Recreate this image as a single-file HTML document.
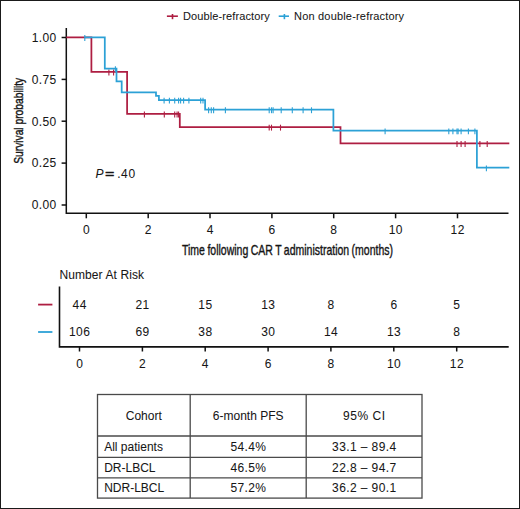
<!DOCTYPE html>
<html><head><meta charset="utf-8"><style>
html,body{margin:0;padding:0;background:#fff;}
svg{display:block;}
text{font-family:"Liberation Sans",sans-serif;fill:#161616;stroke:#161616;stroke-width:0.05px;}
</style></head><body>
<svg width="520" height="509" viewBox="0 0 520 509">
<rect x="0" y="0" width="520" height="509" fill="#fff"/>

<g stroke="#ae1e42" stroke-width="1.6"><line x1="166.9" y1="16.2" x2="177.9" y2="16.2"/><line x1="172.5" y1="14" x2="172.5" y2="19.2"/></g>
<g stroke="#2ca1d6" stroke-width="1.6"><line x1="278.7" y1="16.2" x2="289" y2="16.2"/><line x1="284.4" y1="14" x2="284.4" y2="19.2"/></g>
<text x="182.9" y="20.2" font-size="11" letter-spacing="0.12">Double-refractory</text>
<text x="294.1" y="20.2" font-size="11" letter-spacing="0.18">Non double-refractory</text>
<g stroke="#111" stroke-width="1.5" fill="none">
<polyline points="66.3,28 66.3,213.3 508.5,213.3"/>
<line x1="61.6" y1="205.0" x2="66.3" y2="205.0"/>
<line x1="61.6" y1="163.1" x2="66.3" y2="163.1"/>
<line x1="61.6" y1="121.2" x2="66.3" y2="121.2"/>
<line x1="61.6" y1="79.4" x2="66.3" y2="79.4"/>
<line x1="61.6" y1="37.5" x2="66.3" y2="37.5"/>
<line x1="86.3" y1="213.3" x2="86.3" y2="218.3"/>
<line x1="148.2" y1="213.3" x2="148.2" y2="218.3"/>
<line x1="210.0" y1="213.3" x2="210.0" y2="218.3"/>
<line x1="271.9" y1="213.3" x2="271.9" y2="218.3"/>
<line x1="333.7" y1="213.3" x2="333.7" y2="218.3"/>
<line x1="395.6" y1="213.3" x2="395.6" y2="218.3"/>
<line x1="457.5" y1="213.3" x2="457.5" y2="218.3"/>
</g>
<text x="56.5" y="209.3" font-size="12" text-anchor="end" letter-spacing="0.35">0.00</text>
<text x="56.5" y="167.4" font-size="12" text-anchor="end" letter-spacing="0.35">0.25</text>
<text x="56.5" y="125.5" font-size="12" text-anchor="end" letter-spacing="0.35">0.50</text>
<text x="56.5" y="83.7" font-size="12" text-anchor="end" letter-spacing="0.35">0.75</text>
<text x="56.5" y="41.8" font-size="12" text-anchor="end" letter-spacing="0.35">1.00</text>
<text x="86.5" y="233.6" font-size="12" text-anchor="middle" letter-spacing="0.4">0</text>
<text x="148.4" y="233.6" font-size="12" text-anchor="middle" letter-spacing="0.4">2</text>
<text x="210.2" y="233.6" font-size="12" text-anchor="middle" letter-spacing="0.4">4</text>
<text x="272.1" y="233.6" font-size="12" text-anchor="middle" letter-spacing="0.4">6</text>
<text x="333.9" y="233.6" font-size="12" text-anchor="middle" letter-spacing="0.4">8</text>
<text x="395.8" y="233.6" font-size="12" text-anchor="middle" letter-spacing="0.4">10</text>
<text x="457.7" y="233.6" font-size="12" text-anchor="middle" letter-spacing="0.4">12</text>
<text x="182" y="254.6" font-size="14.8" style="stroke-width:0.4px;word-spacing:-0.6px" textLength="211" lengthAdjust="spacingAndGlyphs">Time following CAR T administration (months)</text>
<text transform="translate(22.6,163.8) rotate(-90)" x="0" y="0" font-size="13.2" style="stroke-width:0.4px" textLength="86" lengthAdjust="spacingAndGlyphs">Survival probability</text>
<polyline points="66.3,37.4 91.4,37.4 91.4,71.9 127.1,71.9 127.1,113.8 179.8,113.8 179.8,127.0 340.5,127.0 340.5,143.3 509.3,143.3" fill="none" stroke="#ae1e42" stroke-width="1.75" stroke-linejoin="miter" stroke-linecap="butt"/>
<g stroke="#ae1e42" stroke-width="1.1"><line x1="108.9" y1="69.6" x2="108.9" y2="75.5"/><line x1="113.6" y1="69.6" x2="113.6" y2="75.5"/><line x1="144.4" y1="111.5" x2="144.4" y2="117.4"/><line x1="164.3" y1="111.5" x2="164.3" y2="117.4"/><line x1="174.7" y1="111.5" x2="174.7" y2="117.4"/><line x1="177.1" y1="111.5" x2="177.1" y2="117.4"/><line x1="178.6" y1="111.5" x2="178.6" y2="117.4"/><line x1="269.2" y1="124.7" x2="269.2" y2="130.6"/><line x1="271.5" y1="124.7" x2="271.5" y2="130.6"/><line x1="280.5" y1="124.7" x2="280.5" y2="130.6"/><line x1="457.0" y1="141.0" x2="457.0" y2="146.9"/><line x1="461.1" y1="141.0" x2="461.1" y2="146.9"/><line x1="465.1" y1="141.0" x2="465.1" y2="146.9"/><line x1="479.9" y1="141.0" x2="479.9" y2="146.9"/><line x1="487.2" y1="141.0" x2="487.2" y2="146.9"/></g>
<polyline points="84.6,37.4 104.8,37.4 104.8,68.5 116.5,68.5 116.5,81.4 121.7,81.4 121.7,92.4 156.0,92.4 156.0,95.9 158.9,95.9 158.9,100.0 205.1,100.0 205.1,109.6 333.4,109.6 333.4,130.7 476.9,130.7 476.9,167.7 509.3,167.7" fill="none" stroke="#2ca1d6" stroke-width="1.75" stroke-linejoin="miter" stroke-linecap="butt"/>
<g stroke="#2ca1d6" stroke-width="1.1"><line x1="84.8" y1="35.1" x2="84.8" y2="41.0"/><line x1="115.4" y1="66.2" x2="115.4" y2="72.1"/><line x1="164.1" y1="97.7" x2="164.1" y2="103.6"/><line x1="169.4" y1="97.7" x2="169.4" y2="103.6"/><line x1="174.7" y1="97.7" x2="174.7" y2="103.6"/><line x1="178.6" y1="97.7" x2="178.6" y2="103.6"/><line x1="180.6" y1="97.7" x2="180.6" y2="103.6"/><line x1="183.6" y1="97.7" x2="183.6" y2="103.6"/><line x1="188.9" y1="97.7" x2="188.9" y2="103.6"/><line x1="200.7" y1="97.7" x2="200.7" y2="103.6"/><line x1="203.0" y1="97.7" x2="203.0" y2="103.6"/><line x1="208.6" y1="107.3" x2="208.6" y2="113.2"/><line x1="211.3" y1="107.3" x2="211.3" y2="113.2"/><line x1="213.6" y1="107.3" x2="213.6" y2="113.2"/><line x1="225.4" y1="107.3" x2="225.4" y2="113.2"/><line x1="269.2" y1="107.3" x2="269.2" y2="113.2"/><line x1="271.5" y1="107.3" x2="271.5" y2="113.2"/><line x1="273.1" y1="107.3" x2="273.1" y2="113.2"/><line x1="281.2" y1="107.3" x2="281.2" y2="113.2"/><line x1="292.3" y1="107.3" x2="292.3" y2="113.2"/><line x1="303.1" y1="107.3" x2="303.1" y2="113.2"/><line x1="311.5" y1="107.3" x2="311.5" y2="113.2"/><line x1="385.1" y1="128.4" x2="385.1" y2="134.3"/><line x1="448.8" y1="128.4" x2="448.8" y2="134.3"/><line x1="452.9" y1="128.4" x2="452.9" y2="134.3"/><line x1="457.0" y1="128.4" x2="457.0" y2="134.3"/><line x1="458.1" y1="128.4" x2="458.1" y2="134.3"/><line x1="461.1" y1="128.4" x2="461.1" y2="134.3"/><line x1="468.4" y1="128.4" x2="468.4" y2="134.3"/><line x1="474.9" y1="128.4" x2="474.9" y2="134.3"/><line x1="486.4" y1="165.4" x2="486.4" y2="171.3"/></g>
<text x="95.5" y="177.6" font-size="12" font-style="italic">P</text><text x="104.9" y="177.6" font-size="12" textLength="9.4" lengthAdjust="spacingAndGlyphs" style="stroke-width:0.35px">=</text><text x="117.2" y="177.6" font-size="12" letter-spacing="0.6">.40</text>
<text x="59.4" y="278.9" font-size="12" letter-spacing="0.1">Number At Risk</text>
<polyline points="59.5,286.5 59.5,346.9 508.7,346.9" fill="none" stroke="#111" stroke-width="1.6"/>
<g stroke="#111" stroke-width="1.5">
<line x1="79.5" y1="346.9" x2="79.5" y2="351.5"/>
<line x1="142.4" y1="346.9" x2="142.4" y2="351.5"/>
<line x1="205.2" y1="346.9" x2="205.2" y2="351.5"/>
<line x1="268.1" y1="346.9" x2="268.1" y2="351.5"/>
<line x1="330.9" y1="346.9" x2="330.9" y2="351.5"/>
<line x1="393.8" y1="346.9" x2="393.8" y2="351.5"/>
<line x1="456.7" y1="346.9" x2="456.7" y2="351.5"/>
</g>
<text x="79.7" y="367.5" font-size="12" text-anchor="middle" letter-spacing="0.4">0</text>
<text x="142.6" y="367.5" font-size="12" text-anchor="middle" letter-spacing="0.4">2</text>
<text x="205.4" y="367.5" font-size="12" text-anchor="middle" letter-spacing="0.4">4</text>
<text x="268.3" y="367.5" font-size="12" text-anchor="middle" letter-spacing="0.4">6</text>
<text x="331.1" y="367.5" font-size="12" text-anchor="middle" letter-spacing="0.4">8</text>
<text x="394.0" y="367.5" font-size="12" text-anchor="middle" letter-spacing="0.4">10</text>
<text x="456.9" y="367.5" font-size="12" text-anchor="middle" letter-spacing="0.4">12</text>
<text x="79.7" y="308.8" font-size="12" text-anchor="middle" letter-spacing="0.45">44</text>
<text x="79.7" y="336.3" font-size="12" text-anchor="middle" letter-spacing="0.45">106</text>
<text x="142.6" y="308.8" font-size="12" text-anchor="middle" letter-spacing="0.45">21</text>
<text x="142.6" y="336.3" font-size="12" text-anchor="middle" letter-spacing="0.45">69</text>
<text x="205.4" y="308.8" font-size="12" text-anchor="middle" letter-spacing="0.45">15</text>
<text x="205.4" y="336.3" font-size="12" text-anchor="middle" letter-spacing="0.45">38</text>
<text x="268.3" y="308.8" font-size="12" text-anchor="middle" letter-spacing="0.45">13</text>
<text x="268.3" y="336.3" font-size="12" text-anchor="middle" letter-spacing="0.45">30</text>
<text x="331.1" y="308.8" font-size="12" text-anchor="middle" letter-spacing="0.45">8</text>
<text x="331.1" y="336.3" font-size="12" text-anchor="middle" letter-spacing="0.45">14</text>
<text x="394.0" y="308.8" font-size="12" text-anchor="middle" letter-spacing="0.45">6</text>
<text x="394.0" y="336.3" font-size="12" text-anchor="middle" letter-spacing="0.45">13</text>
<text x="456.9" y="308.8" font-size="12" text-anchor="middle" letter-spacing="0.45">5</text>
<text x="456.9" y="336.3" font-size="12" text-anchor="middle" letter-spacing="0.45">8</text>
<line x1="38.1" y1="304.6" x2="52.4" y2="304.6" stroke="#ae1e42" stroke-width="1.8"/>
<line x1="38.1" y1="332" x2="52.4" y2="332" stroke="#2ca1d6" stroke-width="1.8"/>
<g stroke="#4a4a4a" stroke-width="1.3" fill="none">
<rect x="97.5" y="394.5" width="324.5" height="103.6"/>
<line x1="97.5" y1="436.0" x2="422.0" y2="436.0"/>
<line x1="97.5" y1="457.4" x2="422.0" y2="457.4"/>
<line x1="97.5" y1="477.8" x2="422.0" y2="477.8"/>
<line x1="190.2" y1="394.5" x2="190.2" y2="498.1"/>
<line x1="306.2" y1="394.5" x2="306.2" y2="498.1"/>
</g>
<text x="143.8" y="419.6" font-size="12" text-anchor="middle">Cohort</text>
<text x="248.2" y="419.6" font-size="12" text-anchor="middle">6-month PFS</text>
<text x="364.3" y="419.6" font-size="12" text-anchor="middle" letter-spacing="0.5">95% CI</text>
<text x="104.2" y="451.0" font-size="12">All patients</text>
<text x="248.4" y="451.0" font-size="12" text-anchor="middle" letter-spacing="0.35">54.4%</text>
<text x="364.3" y="451.0" font-size="12" text-anchor="middle" letter-spacing="0.4">33.1 – 89.4</text>
<text x="104.2" y="471.9" font-size="12">DR-LBCL</text>
<text x="248.4" y="471.9" font-size="12" text-anchor="middle" letter-spacing="0.35">46.5%</text>
<text x="364.3" y="471.9" font-size="12" text-anchor="middle" letter-spacing="0.4">22.8 – 94.7</text>
<text x="104.2" y="492.3" font-size="12">NDR-LBCL</text>
<text x="248.4" y="492.3" font-size="12" text-anchor="middle" letter-spacing="0.35">57.2%</text>
<text x="364.3" y="492.3" font-size="12" text-anchor="middle" letter-spacing="0.4">36.2 – 90.1</text>
<rect x="0.5" y="0.5" width="519" height="508" fill="none" stroke="#1a1a1a" stroke-width="1"/>
</svg>
</body></html>
